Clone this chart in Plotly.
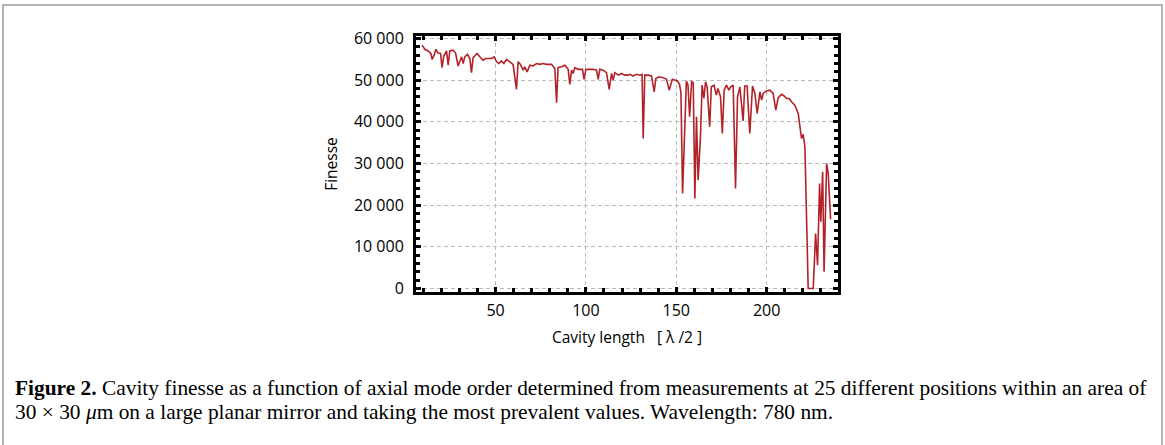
import plotly.graph_objects as go

# Cavity length (axial mode order, in units of lambda/2)
cavity_length = [
    9.4, 10.9, 12.7, 14.2, 14.9, 16.0, 17.0, 18.2, 19.6, 20.4, 21.4, 22.9, 23.8, 24.7,
    26.5, 27.9, 29.3, 30.2, 31.2, 32.1, 33.0, 34.5, 35.8, 36.7, 37.6, 38.5, 39.8, 41.3,
    42.3, 43.1, 44.6, 45.9, 47.8, 49.2, 50.6, 51.8, 53.3, 54.6, 56.1, 57.9, 59.7, 61.6,
    62.5, 63.8, 65.3, 66.2, 67.5, 69.0, 70.8, 72.7, 74.5, 76.3, 78.2, 81.0, 82.8, 83.8,
    84.6, 86.5, 88.4, 90.2, 91.1, 92.1, 92.9, 93.9, 95.7, 98.1, 99.0, 100.0, 102.2, 104.0,
    105.9, 106.8, 107.7, 109.5, 111.4, 112.9, 114.2, 115.1, 116.0, 117.9, 119.7, 121.6,
    123.4, 124.3, 126.1, 128.0, 129.9, 131.1, 131.7, 132.6, 134.5, 136.3, 137.8, 138.7,
    140.5, 142.8, 144.6, 146.1, 147.8, 149.7, 150.6, 151.8, 152.6, 153.5, 155.6, 156.5,
    157.4, 158.5, 159.4, 160.3, 161.2, 162.1, 163.4, 164.3, 165.3, 166.2, 167.1, 168.5,
    169.4, 170.9, 172.2, 173.1, 174.5, 175.5, 176.5, 177.8, 179.1, 180.1, 181.5, 182.8,
    183.9, 185.2, 187.0, 187.9, 189.2, 190.7, 192.2, 193.5, 194.8, 196.3, 197.2, 198.1,
    199.9, 201.8, 203.6, 205.1, 206.4, 208.3, 209.7, 211.0, 212.5, 213.8, 215.6, 217.5,
    218.3, 219.3, 220.2, 221.2, 223.0, 225.8, 227.1, 228.2, 229.3, 230.0, 231.0, 231.8,
    233.2, 234.1, 235.4,
]

# Finesse values
finesse = [
    58400, 57400, 57000, 56400, 55000, 56000, 57400, 56500, 56400, 53000, 55800, 57000, 53600, 57000,
    57200, 56500, 53400, 54400, 55600, 54000, 55600, 56200, 55200, 51800, 55400, 55800, 56400, 55600,
    55200, 54800, 55200, 55200, 55200, 55600, 54400, 54000, 54600, 54000, 55000, 54400, 53800, 47800,
    54400, 53800, 52400, 53200, 52000, 53600, 53400, 54000, 53800, 54000, 53800, 53800, 52800, 44600,
    53000, 53200, 53600, 52600, 49000, 52400, 51600, 53000, 52600, 52600, 50200, 52600, 52600, 52600,
    52400, 50200, 52600, 52400, 51800, 47800, 51600, 50000, 51800, 51200, 51600, 51200,
    51200, 51400, 51000, 51400, 51200, 51400, 36000, 51200, 51200, 51000, 47200, 50400,
    50800, 50600, 50200, 47600, 50200, 49800, 49800, 49000, 47000, 22800, 49800, 48800,
    41200, 49600, 49400, 21600, 41200, 26000, 36400, 48800, 45600, 49600, 48400, 38800,
    48400, 48800, 46400, 48000, 46000, 37200, 47600, 48800, 47600, 48400, 48800, 24000,
    46000, 48400, 40200, 48600, 48600, 37200, 48600, 46800, 42000, 47200, 45200, 46800,
    47400, 47600, 46800, 42800, 45800, 46600, 46200, 45600, 45600, 44800, 44000, 42000,
    39500, 36000, 37000, 34000, 0, 0, 13200, 5600, 25200, 16000, 28000, 4000,
    30000, 27600, 16600,
]

x_tick_vals = [50, 100, 150, 200]
x_tick_text = ["50", "100", "150", "200"]
y_tick_vals = [0, 10000, 20000, 30000, 40000, 50000, 60000]
y_tick_text = ["0", "10 000", "20 000", "30 000", "40 000", "50 000", "60 000"]

x_title = "Cavity length\u00a0\u00a0 [\u00a0λ\u00a0/2\u00a0]"
y_title = "Finesse"
caption_line1 = ("<b>Figure 2.</b> Cavity finesse as a function of axial mode order determined "
                 "from measurements at 25 different positions within an area of")
caption_line2 = ("30 × 30 <i>μ</i>m on a large planar mirror and taking the most prevalent "
                 "values. Wavelength: 780 nm.")

W, H = 1165, 445
L, R, T, B = 416, 838, 36, 292
pw, ph = R - L, B - T


def px_to_paper_x(px):
    return (px - L) / pw


def py_to_paper_y(py):
    return (B - py) / ph


fig = go.Figure()
fig.add_trace(go.Scatter(
    x=cavity_length, y=finesse, mode="lines",
    line=dict(color="#b22228", width=1.6),
    showlegend=False, hoverinfo="skip",
))

tick_font = dict(family="Open Sans, Noto Sans, sans-serif", size=16, color="black")
title_font = dict(family="Open Sans, Noto Sans, sans-serif", size=15.5, color="black")

fig.update_xaxes(
    range=[6, 239.5],
    tickvals=x_tick_vals, ticktext=x_tick_text,
    ticks="inside", ticklen=5, tickwidth=2.5, tickcolor="black",
    minor=dict(dtick=10, tick0=0, ticks="inside", ticklen=4, tickwidth=2.5, tickcolor="black", showgrid=False),
    showline=True, linewidth=3, linecolor="black", mirror="allticks",
    showgrid=True, gridcolor="#bcbcbc", gridwidth=1.2, griddash="4px,3px",
    zeroline=False, tickfont=tick_font, ticklabelstandoff=2,
    title=dict(text=x_title, font=title_font, standoff=12),
)
fig.update_yaxes(
    range=[-850, 60600],
    tickvals=y_tick_vals, ticktext=y_tick_text,
    ticks="inside", ticklen=5, tickwidth=2.5, tickcolor="black",
    minor=dict(dtick=2000, tick0=0, ticks="inside", ticklen=4, tickwidth=2.5, tickcolor="black", showgrid=False),
    showline=True, linewidth=3, linecolor="black", mirror="allticks",
    showgrid=True, gridcolor="#bcbcbc", gridwidth=1.2, griddash="4px,3px",
    zeroline=False, tickfont=tick_font, ticklabelstandoff=6,
    title=dict(text=y_title, font=title_font, standoff=13),
)

cap_font = dict(family="Liberation Serif, Times New Roman, serif", size=21.4, color="black")
fig.add_annotation(text=caption_line1, xref="paper", yref="paper",
                   x=px_to_paper_x(13), y=py_to_paper_y(388), xanchor="left", yanchor="middle",
                   showarrow=False, font=cap_font)
fig.add_annotation(text=caption_line2, xref="paper", yref="paper",
                   x=px_to_paper_x(13), y=py_to_paper_y(412), xanchor="left", yanchor="middle",
                   showarrow=False, font=cap_font)

fig.add_shape(type="rect", xref="paper", yref="paper",
              x0=px_to_paper_x(3), x1=px_to_paper_x(1162),
              y0=py_to_paper_y(470), y1=py_to_paper_y(5),
              line=dict(color="#9a9a9a", width=1.5), fillcolor="rgba(0,0,0,0)", layer="below")

fig.update_layout(
    width=W, height=H,
    margin=dict(l=L, r=W - R, t=T, b=H - B, autoexpand=False),
    paper_bgcolor="white", plot_bgcolor="white",
)

fig.write_html("out.html", config={"displayModeBar": False},
               post_script="document.body.style.margin='0';document.body.style.overflow='hidden';")
